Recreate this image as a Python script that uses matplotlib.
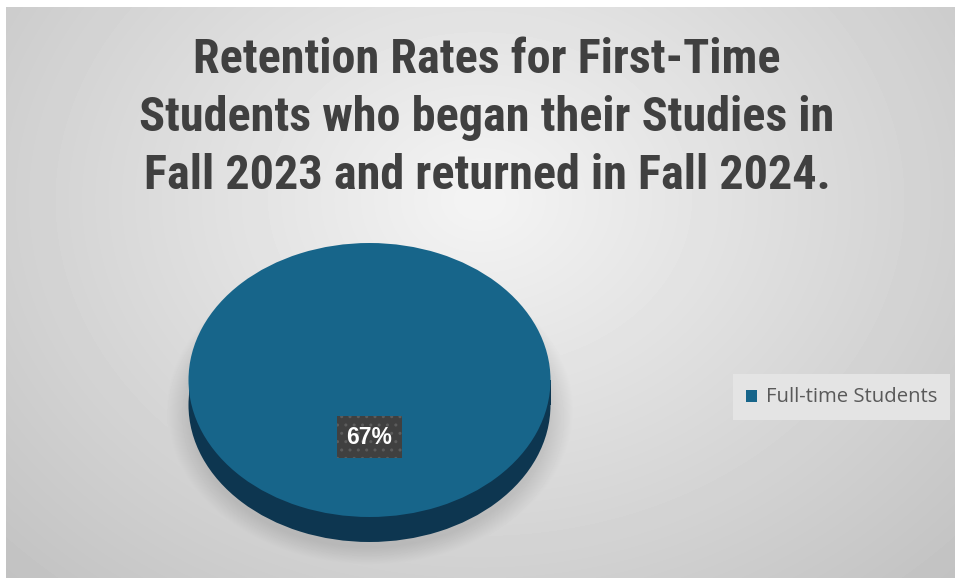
import numpy as np
import matplotlib
matplotlib.use("Agg")
import matplotlib.pyplot as plt
from matplotlib import font_manager
from matplotlib.patches import Rectangle

# ---- data ----
title_lines = ["Retention Rates for First-Time",
               "Students who began their Studies in",
               "Fall 2023 and returned in Fall 2024."]
categories = ["Full-time Students"]
retention_pct = [67]

W, H = 955, 579
fig = plt.figure(figsize=(W / 100, H / 100), dpi=100)
fig.patch.set_facecolor("white")

installed = {f.name for f in font_manager.fontManager.ttflist}
def pick(*names):
    for n in names:
        if n in installed:
            return n
    return "DejaVu Sans"
title_font = pick("Liberation Sans Narrow", "Roboto Condensed", "Open Sans", "Roboto", "Liberation Sans")
body_font = pick("Open Sans", "Lato", "Liberation Sans")

# ---- background (radial gradient + soft pie shadow) ----
x0, y0, x1, y1 = 6, 7, 955, 578
bg_ax = fig.add_axes([x0 / W, 1 - y1 / H, (x1 - x0) / W, (y1 - y0) / H])
xs = np.arange(x0, x1) + 0.5
ys = np.arange(y0, y1) + 0.5
X, Y = np.meshgrid(xs, ys)
d = np.sqrt(((X - 480) / 480) ** 2 + ((Y - 200) / 380) ** 2)
val = 244 - 36 * np.minimum(d, 1.5)
# soft shadow beneath the pie
e = np.sqrt(((X - 370) / 192) ** 2 + ((Y - 410) / 146) ** 2)
sh = np.clip((1.06 - e) / 0.12, 0, 1)
val = val - 26 * sh
img = np.clip(val, 0, 255) / 255.0
bg_ax.imshow(img, cmap="gray", vmin=0, vmax=1, aspect="auto",
             extent=(x0, x1, y1, y0), interpolation="bilinear")
bg_ax.set_axis_off()

# ---- 3D-looking pie ----
top_color = "#17658a"
side_color = "#0d3650"
cx, cy, rx, ry, depth = 369.5, 380, 181, 137, 25
dy = depth / ry
pie_ax = fig.add_axes([(cx - rx) / W, 1 - (cy + ry + depth) / H, 2 * rx / W, (2 * ry + depth) / H])
pie_ax.pie(retention_pct, colors=[side_color], radius=1, center=(0, -dy),
           startangle=90, wedgeprops=dict(linewidth=0))
pie_ax.add_patch(Rectangle((-1, -dy), 2, dy, facecolor=side_color, linewidth=0))
wedges, _, autotexts = pie_ax.pie(
    retention_pct, colors=[top_color], radius=1, center=(0, 0), startangle=90,
    autopct=lambda p: f"{retention_pct[0]}%", pctdistance=57 / ry,
    wedgeprops=dict(linewidth=0))
pie_ax.set_aspect("auto")
pie_ax.set_xlim(-1, 1)
pie_ax.set_ylim(-1 - dy, 1)
pie_ax.set_axis_off()
for t in autotexts:
    t.set_color("white")
    t.set_fontweight("bold")
    t.set_fontsize(16.5)
    t.set_fontfamily("Liberation Sans")
    t.set_bbox(dict(boxstyle="square,pad=0.4", facecolor="#404040",
                    edgecolor="#5c5c5c", linewidth=0, hatch=".."))

# ---- title ----
baselines = [73, 131, 189]
title_texts = []
for line, yb in zip(title_lines, baselines):
    t = fig.text(487 / W, 1 - yb / H, line, ha="center", va="baseline",
                 fontsize=30, fontweight="bold", color="#404040",
                 family=title_font)
    title_texts.append(t)

# ---- legend ----
leg = fig.legend(wedges, categories, loc="center left",
                 bbox_to_anchor=(733 / W, 1 - 397 / H), borderaxespad=0,
                 frameon=True, facecolor="#e4e4e4", edgecolor="none",
                 framealpha=1, fancybox=False, fontsize=12.5,
                 handlelength=0.65, handleheight=0.65, handletextpad=0.5,
                 borderpad=0.75, labelcolor="#595959",
                 prop=dict(family=body_font, size=12.5))

# fit text widths to reference
fig.canvas.draw()
r = fig.canvas.get_renderer()
target = [581, 705, 685]
got = [t.get_window_extent(r).width for t in title_texts]
scale = sum(target) / sum(got)
for t in title_texts:
    t.set_fontsize(30 * scale)
lt = leg.get_texts()[0]
ls = 173 / lt.get_window_extent(r).width
lt.set_fontsize(12.5 * ls)

fig.savefig("out.png", dpi=100, facecolor="white")
